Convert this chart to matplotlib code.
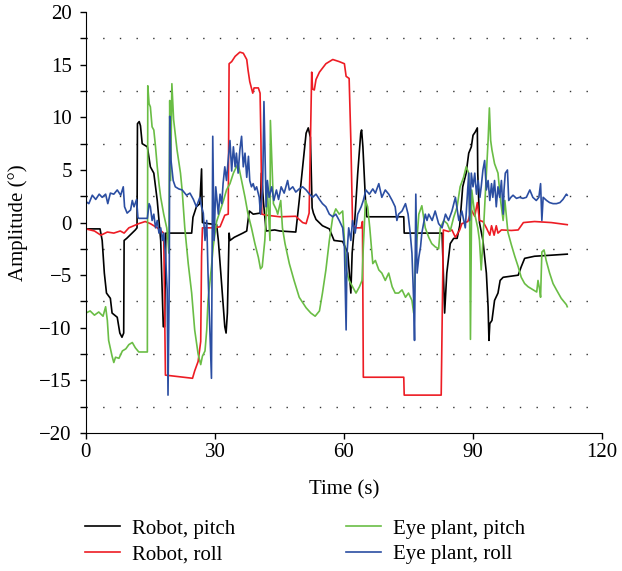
import matplotlib.pyplot as plt

# Robot, pitch
t_rp = [0, 3.3, 3.8, 4.3, 4.8, 5.7, 6.1, 7.3, 7.9, 8.4, 8.8, 8.9, 9.5, 10.5, 11.5, 11.9,
        12.0, 12.4, 12.7, 13.1, 14.3, 15.0, 15.8, 16.6, 17.4, 18.0, 18.3, 18.6, 24.6, 24.9,
        25.7, 26.5, 26.9, 27.1, 28.5, 30.4, 30.8, 31.5, 32.3, 32.6, 32.9, 33.3, 33.5, 34.5,
        35.5, 36.5, 37.4, 37.7, 38.0, 38.9, 40.5, 40.8, 41.3, 41.9, 43.9, 45.1, 48.8, 49.6,
        50.4, 51.2, 51.7, 52.2, 52.6, 52.9, 53.5, 55.0, 56.6, 57.7, 59.7, 60.9, 61.6, 61.9,
        62.4, 63.2, 63.9, 64.1, 64.4, 65.0, 65.3, 73.9, 74.0, 82.8, 83.4, 83.9, 84.7, 85.5,
        86.3, 86.9, 87.6, 88.4, 89.0, 89.6, 90.0, 90.5, 91.0, 91.1, 91.5, 92.3, 93.1, 93.5,
        93.7, 93.9, 94.4, 95.0, 95.8, 96.3, 97.0, 100.5, 101.2, 102.0, 104.3, 108.2, 111.9]
v_rp = [-0.6, -0.6, -1.7, -4.8, -6.7, -7.2, -8.6, -9.0, -10.5, -10.9, -10.5, -1.7, -1.5, -1.1, -0.7, -0.5,
        9.4, 9.6, 9.2, 7.5, 7.2, 5.3, 4.7, 2.1, -1.7, -9.9, -9.9, -1.0, -1.0, 0.5,
        1.5, 1.8, 5.1, 0.0, -0.1, -0.2, -1.7, -5.5, -9.9, -10.5, -8.6, -1.0, -1.7, -1.4,
        -1.2, -1.0, -0.8, 0.2, 1.1, 0.8, 0.9, 4.7, 1.9, -0.8, -0.7, -0.8, -0.9, 2.1,
        5.3, 8.5, 9.0, 8.1, 1.4, 0.9, 0.3, -0.3, -0.6, -1.7, -1.8, -2.9, -6.7, -2.9,
        -0.5, 4.7, 8.5, 8.8, 7.2, 2.1, 0.55, 0.55, -1.0, -1.0, -8.6, -4.8, -2.0, -1.5,
        -1.5, -0.3, 3.4, 4.7, 6.6, 7.2, 8.3, 8.6, 9.0, 4.7, 0.0, -1.7, -4.8, -8.0,
        -11.2, -9.6, -9.3, -7.4, -6.7, -5.5, -5.2, -5.0, -4.2, -3.4, -3.2, -3.1, -3.0]

# Robot, roll
t_rr = [0, 2.0, 3.5, 5.0, 6.5, 8.0, 8.9, 10.0, 12.3, 13.8, 15.0, 16.6, 18.1, 18.5, 24.8,
        25.3, 26.1, 26.7, 26.9, 27.1, 29.6, 31.2, 32.3, 33.1, 33.3, 33.9, 34.7, 35.8, 36.6,
        37.4, 37.7, 38.1, 38.8, 39.1, 40.1, 40.5, 40.7, 40.9, 42.0, 45.1, 48.8, 50.4, 51.2,
        51.9, 52.5, 52.7, 53.1, 53.5, 54.3, 55.8, 57.4, 58.9, 60.1, 60.5, 61.2, 61.6, 62.0,
        62.8, 64.0, 64.3, 64.5, 73.9, 74.0, 82.6, 83.1, 84.3, 85.1, 85.9, 86.9, 87.4, 88.8,
        89.6, 90.4, 91.0, 91.5, 92.3, 93.1, 93.9, 94.3, 94.9, 95.4, 95.8, 96.6, 98.9, 100.5,
        101.7, 104.3, 108.2, 111.9]
v_rr = [-0.6, -0.8, -1.2, -0.9, -1.0, -0.8, -1.0, -0.5, -0.1, 0.1, -0.1, -0.5, -1.0, -14.5, -14.8,
        -14.1, -13.2, -11.3, -3.2, -0.5, -0.5, -0.4, 0.7, 0.8, 15.1, 15.3, 15.8, 16.2, 16.1,
        15.5, 14.5, 13.4, 12.3, 12.8, 12.8, 12.3, 7.8, 0.8, 0.7, 0.55, 0.6, 0.0, -0.1,
        0.9, 14.3, 12.7, 12.6, 13.6, 14.3, 15.1, 15.5, 15.3, 15.1, 13.9, 13.7, 7.8, -0.2,
        -0.5, -0.5, 0.1, -14.7, -14.7, -16.4, -16.4, -0.7, -0.85, -0.7, -1.4, -0.7, -0.1, 0.1,
        1.2, 0.6, 1.9, 0.2, 0.1, -0.5, -1.2, -0.3, -1.2, -0.3, -1.0, -0.7, -0.75, -0.7,
        0.0, 0.1, 0.0, -0.2]

# Eye plant, pitch
t_ep = [0, 1.0, 2.0, 3.0, 4.0, 4.6, 5.0, 5.3, 6.1, 6.5, 6.9, 7.7, 8.5, 9.3, 10.0, 10.8,
        11.5, 12.3, 14.3, 14.4, 14.7, 15.0, 15.4, 15.8, 16.2, 16.6, 17.0, 17.4, 18.1, 18.8,
        19.1, 19.3, 19.5, 19.7, 20.0, 20.4, 21.2, 22.0, 22.4, 23.0, 23.8, 24.6, 25.3, 26.1,
        26.7, 27.1, 27.7, 28.1, 28.4, 29.2, 29.6, 30.4, 31.2, 32.0, 32.7, 33.5, 34.3, 35.0,
        35.4, 36.2, 37.0, 37.7, 38.5, 39.3, 40.1, 40.6, 41.0, 41.6, 42.2, 42.8, 42.9, 43.6,
        44.3, 44.6, 45.3, 45.7, 46.3, 47.3, 48.4, 49.6, 51.2, 52.3, 53.3, 54.3, 55.0, 55.8,
        56.6, 57.4, 58.1, 58.9, 59.7, 60.1, 60.5, 61.2, 62.0, 62.8, 63.6, 64.2, 64.5, 65.0,
        65.5, 66.0, 66.7, 67.3, 68.1, 68.8, 69.6, 70.4, 71.2, 71.9, 72.7, 73.5, 74.3, 75.0,
        75.8, 76.2, 76.6, 77.4, 78.1, 78.9, 79.7, 80.4, 81.2, 82.0, 82.4, 83.2, 84.0, 84.7,
        85.5, 86.3, 87.0, 87.8, 88.4, 89.0, 89.2, 89.4, 89.7, 90.4, 91.1, 91.5, 91.9, 92.3,
        92.7, 93.1, 93.5, 93.8, 94.1, 94.4, 95.0, 95.8, 96.4, 97.0, 97.4, 97.7, 98.1, 98.9,
        99.7, 100.5, 101.2, 102.0, 102.8, 104.0, 104.8, 105.1, 105.5, 105.7, 106.0, 106.5, 107.0, 107.8,
        108.6, 109.4, 110.5, 111.7, 111.9]
v_ep = [-8.6, -8.4, -8.8, -8.5, -8.9, -8.0, -9.3, -11.2, -12.7, -13.3, -12.8, -12.9, -12.2, -12.0, -11.6, -11.4,
        -11.9, -12.3, -12.3, 13.0, 11.3, 11.0, 9.1, 8.8, 7.2, 5.3, 3.7, 2.4, 0.8, -0.5,
        -1.7, -2.9, 11.6, 4.0, 13.2, 9.8, 6.9, 4.7, 3.0, -0.5, -3.9, -6.7, -10.2, -12.5,
        -13.5, -12.7, -12.2, -10.2, -7.4, -4.2, -2.3, 0.1, 1.1, 2.1, 3.1, 3.7, 4.7, 5.3,
        5.6, 4.0, 2.4, 0.8, -0.5, -2.0, -3.3, -4.4, -4.2, -1.7, 3.1, -1.7, 9.7, 1.8,
        1.2, 0.8, 2.1, -0.5, -2.0, -3.9, -5.5, -7.1, -8.1, -8.6, -8.9, -8.4, -6.7, -4.5,
        -1.7, 0.55, 1.3, 0.8, 1.1, -1.7, -4.5, -5.5, -6.1, -6.7, -6.1, -5.5, -2.3, 2.1,
        1.5, -0.5, -3.9, -3.6, -4.5, -4.8, -5.5, -4.8, -6.1, -6.7, -6.7, -6.4, -7.1, -6.7,
        -7.4, -8.6, -3.6, 0.8, 1.6, -0.5, -1.4, -2.0, -2.3, -2.5, -0.5, 0.2, -0.1, -0.8,
        0.5, 1.5, 3.4, 4.3, 5.3, 4.7, 1.5, -11.1, 3.1, 0.8, -0.5, -1.7, -4.5, -1.7,
        1.5, 4.7, 7.8, 10.9, 7.8, 6.9, 5.6, 4.7, 2.1, 0.2, 2.1, 0.8, -0.9, -2.1,
        -3.2, -4.2, -5.2, -5.8, -6.1, -6.4, -6.6, -5.5, -6.4, -7.1, -2.8, -2.6, -3.6, -4.8,
        -5.8, -6.4, -7.2, -7.8, -8.0]

# Eye plant, roll
t_er = [0, 0.7, 1.5, 2.3, 3.1, 3.8, 4.6, 5.1, 5.7, 6.5, 7.3, 8.1, 8.7, 9.0, 9.6, 10.4,
        10.8, 11.2, 11.8, 12.1, 12.3, 14.3, 14.7, 15.0, 15.4, 15.8, 16.2, 16.6, 17.0, 17.4,
        17.8, 18.1, 18.5, 18.9, 19.1, 19.4, 19.5, 19.8, 20.3, 20.8, 21.6, 22.4, 23.4, 24.2,
        25.0, 25.7, 26.5, 26.9, 27.3, 27.7, 28.1, 28.4, 28.8, 29.2, 29.5, 29.8, 30.2, 30.8,
        31.2, 31.6, 31.9, 32.3, 32.7, 33.1, 33.5, 33.9, 34.3, 34.7, 35.0, 35.4, 35.8, 36.2,
        36.6, 37.0, 37.4, 37.8, 38.1, 38.5, 38.9, 39.3, 39.7, 40.3, 40.6, 41.1, 41.4, 41.9,
        42.2, 42.6, 43.2, 43.7, 44.3, 44.8, 45.4, 46.1, 46.9, 47.3, 48.1, 48.8, 49.6, 50.4,
        51.2, 52.0, 52.7, 53.5, 54.3, 55.0, 55.8, 56.6, 57.4, 58.1, 58.9, 59.7, 60.1, 60.5,
        60.7, 61.1, 61.6, 62.0, 62.6, 63.2, 64.0, 64.5, 65.1, 65.9, 66.7, 67.3, 68.1, 68.8,
        69.6, 70.4, 71.2, 71.9, 72.3, 72.7, 73.5, 74.3, 74.9, 75.4, 75.8, 76.2, 76.4, 76.7,
        77.0, 77.4, 77.8, 78.1, 78.9, 79.3, 79.7, 80.5, 81.2, 82.0, 82.8, 83.6, 84.3, 85.1,
        85.9, 86.7, 87.4, 88.2, 89.0, 89.2, 89.6, 90.0, 90.4, 90.8, 91.2, 91.6, 91.9, 92.3,
        92.7, 93.1, 93.5, 93.9, 94.3, 94.6, 95.0, 95.4, 95.8, 96.2, 96.6, 97.0, 97.2, 97.5,
        98.0, 98.3, 98.8, 99.3, 100.1, 100.8, 101.6, 102.4, 103.2, 103.9, 104.7, 105.3, 105.7, 106.0,
        106.3, 107.1, 107.8, 108.6, 109.4, 110.2, 110.9, 111.7, 111.9]
v_er = [2.0, 1.8, 2.6, 2.2, 2.7, 2.4, 2.7, 1.8, 2.8, 2.7, 3.1, 2.6, 3.4, 1.5, 0.9, 1.2,
        2.1, 1.5, 2.2, 0.5, 0.4, 0.4, 1.8, 1.5, 0.2, 0.8, -0.5, 0.2, -1.0, -0.5,
        -1.7, -1.0, -2.9, -6.4, -16.4, -5.0, 10.1, 5.9, 4.0, 3.4, 3.2, 3.1, 2.6, 2.8,
        2.2, 1.5, 2.4, 1.5, 0.9, -1.7, 0.2, -4.8, -9.9, -14.8, 8.2, -1.7, 3.4, 0.8,
        2.7, 1.8, 3.7, 5.3, 4.0, 6.0, 7.8, 4.9, 7.2, 5.3, 6.6, 4.7, 6.9, 8.2,
        5.3, 6.6, 4.3, 6.3, 4.0, 3.4, 3.7, 3.1, 3.4, 2.4, 0.8, 3.4, 11.5, 1.5,
        4.0, 2.4, 3.4, 2.1, 3.1, 2.2, 3.4, 2.8, 4.0, 3.1, 3.4, 2.9, 3.2, 3.4,
        3.1, 2.7, 2.4, 2.7, 2.2, 1.8, 1.5, 0.8, 0.55, 0.8, 0.2, -0.5, -2.3, -10.2,
        -3.0, -0.5, -1.7, 0.2, -1.0, 0.8, 1.5, 2.1, 3.1, 2.7, 3.2, 2.8, 3.7, 2.4,
        3.1, 2.7, 2.1, 1.5, 0.2, 0.8, 1.1, 1.8, 0.8, -1.0, -2.9, -7.4, -11.2, 2.7,
        -4.8, -3.3, -2.3, -1.0, 0.8, 0.2, 0.8, 0.2, 1.1, -0.1, -0.5, 0.8, 0.2, 1.1,
        2.4, 0.2, 1.1, -0.5, 4.7, 0.2, 4.7, 3.4, 4.7, 2.7, 4.0, 2.4, 3.4, 5.0,
        5.9, 3.1, 4.0, 2.1, 3.7, 2.4, 4.0, 1.5, 3.4, 2.4, 4.0, 0.8, 3.1, 4.7,
        5.0, 2.1, 2.4, 2.6, 2.3, 2.4, 2.3, 2.4, 3.1, 2.4, 2.1, 2.4, 3.7, 0.2,
        2.4, 2.1, 1.9, 1.8, 1.8, 1.9, 2.2, 2.7, 2.6]

plt.rcParams['font.family'] = ['Liberation Serif', 'DejaVu Serif']
fs = 15

fig = plt.figure(figsize=(6.22, 5.71), dpi=100)
ax = fig.add_axes([0.138, 0.2417, 0.830, 0.737])

ax.plot(t_rp, v_rp, color='black', lw=1.2, label='Robot, pitch')
ax.plot(t_rr, v_rr, color='#ed1c24', lw=1.2, label='Robot, roll')
ax.plot(t_ep, v_ep, color='#6abd45', lw=1.2, label='Eye plant, pitch')
ax.plot(t_er, v_er, color='#2b4ea2', lw=1.2, label='Eye plant, roll')

ax.set_xlim(0, 120)
ax.set_ylim(-20, 20)
ax.set_xticks([0, 30, 60, 90, 120])
ax.set_yticks(range(-20, 21, 5))
ax.set_yticks([-17.5, -12.5, -7.5, -2.5, 2.5, 7.5, 12.5, 17.5], minor=True)
ax.tick_params(axis='both', which='both', direction='out', length=4, width=1, labelsize=fs)
ax.tick_params(axis='x', pad=3)
ax.tick_params(axis='y', pad=6)
ax.grid(True, which='minor', axis='y', color='#333333', linestyle=(0, (1, 11)), linewidth=1.0)

for s in ['top', 'right']:
    ax.spines[s].set_visible(False)

ax.set_xlabel('Time (s)', fontsize=fs)
ax.set_ylabel('Amplitude (°)', fontsize=fs)
ax.xaxis.set_label_coords(0.5, -0.112)
ax.yaxis.set_label_coords(-0.112, 0.5)

fig.legend(loc='upper left', bbox_to_anchor=(85 / 622, 1 - 519 / 571), ncol=2, frameon=False,
           fontsize=fs, handlelength=1.68, handletextpad=0.58, columnspacing=5.3,
           labelspacing=0.3, borderpad=0, borderaxespad=0)

plt.savefig('out.png', dpi=100)
